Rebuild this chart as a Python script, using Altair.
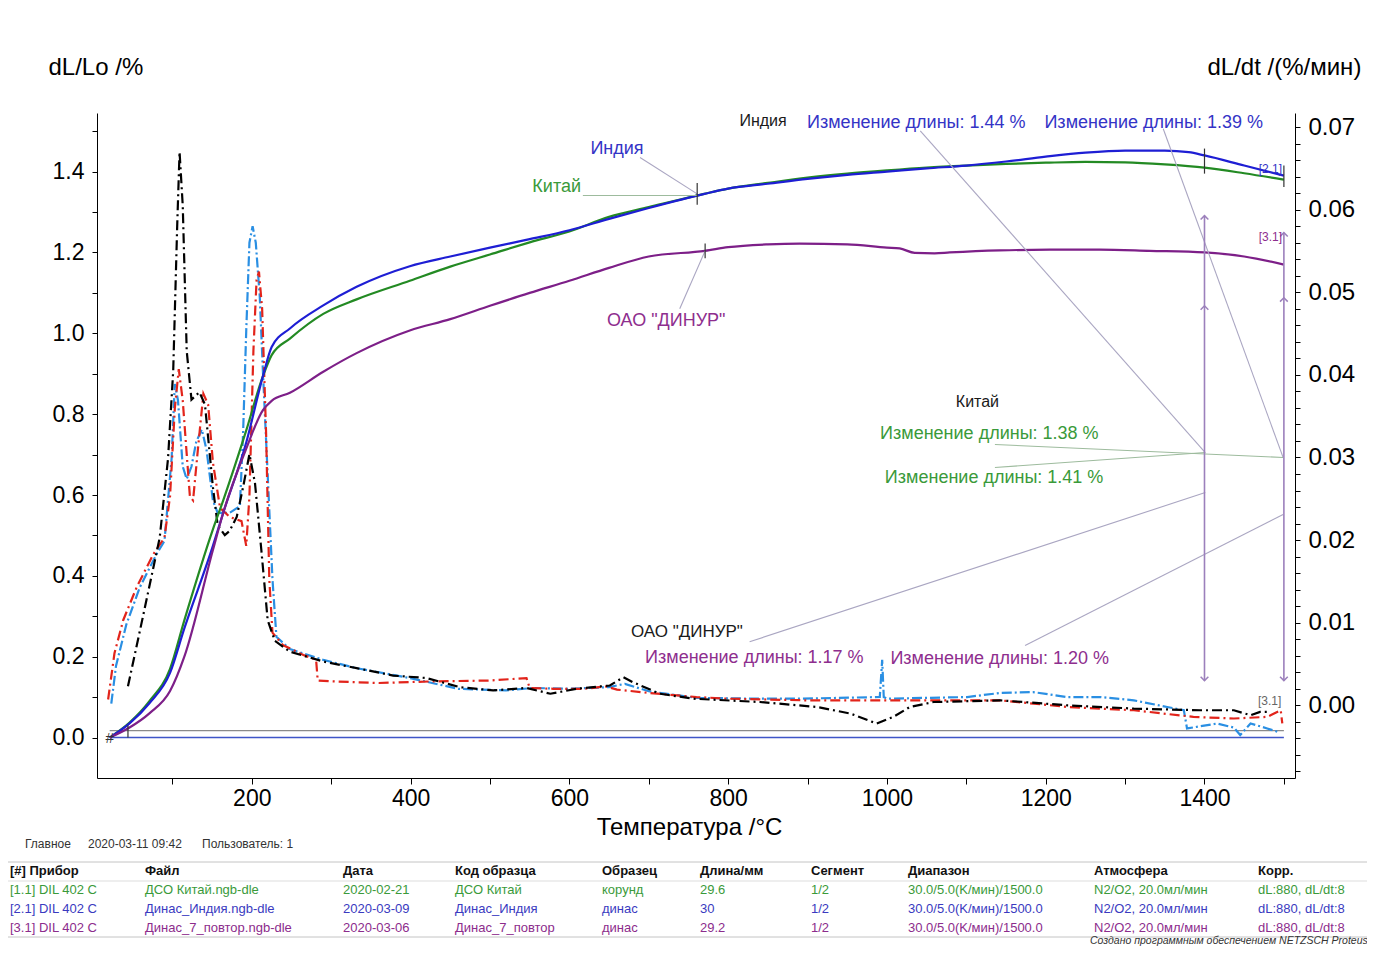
import altair as alt
import pandas as pd

# ======================= DATA =======================
# dL/Lo /%  (left axis) - expansion curves
india_T = [21, 46, 71, 97, 115, 151, 164, 193, 214, 225, 248, 290, 332, 399, 450, 500,
           550, 600, 650, 700, 770, 800, 850, 900, 950, 1000, 1050, 1100, 1150, 1200,
           1250, 1300, 1350, 1380, 1400, 1450, 1500]
india_dL = [0.0, 0.035, 0.085, 0.16, 0.27, 0.474, 0.556, 0.73, 0.894, 0.966, 1.012, 1.069,
            1.115, 1.166, 1.19, 1.212, 1.233, 1.255, 1.283, 1.31, 1.345, 1.358, 1.37, 1.382,
            1.392, 1.4, 1.408, 1.415, 1.425, 1.437, 1.447, 1.452, 1.452, 1.448, 1.44, 1.415, 1.39]

china_T = [21, 46, 71, 97, 115, 151, 164, 193, 214, 225, 248, 290, 332, 399, 450, 500,
           550, 600, 650, 700, 770, 800, 850, 900, 950, 1000, 1050, 1100, 1150, 1200,
           1250, 1300, 1350, 1400, 1450, 1500]
china_dL = [0.0, 0.037, 0.09, 0.17, 0.29, 0.515, 0.587, 0.76, 0.894, 0.946, 0.987, 1.048,
            1.084, 1.13, 1.165, 1.195, 1.225, 1.252, 1.288, 1.312, 1.345, 1.358, 1.372, 1.385,
            1.395, 1.403, 1.41, 1.415, 1.419, 1.422, 1.424, 1.423, 1.418, 1.41, 1.396, 1.38]

dinur_T = [21, 46, 71, 97, 115, 151, 164, 193, 214, 225, 248, 290, 332, 399, 450, 500,
           550, 600, 650, 700, 771, 800, 850, 890, 950, 1000, 1016, 1035, 1060, 1079, 1142,
           1205, 1268, 1331, 1400, 1450, 1500]
dinur_dL = [0.0, 0.025, 0.06, 0.115, 0.2, 0.464, 0.556, 0.715, 0.81, 0.833, 0.853, 0.905,
            0.951, 1.007, 1.035, 1.068, 1.1, 1.13, 1.162, 1.19, 1.204, 1.213, 1.22, 1.222,
            1.22, 1.212, 1.21, 1.199, 1.198, 1.2, 1.205, 1.207, 1.207, 1.204, 1.2, 1.19, 1.17]

# dL/dt /(%/мин)  (right axis) - derivative curves
dt_black_T = [44, 63, 84, 94.5, 101, 106, 109, 113, 118, 124, 134, 141, 151, 157, 166, 172,
              181, 189, 197, 204, 212, 220, 229, 248, 290, 332, 378, 420, 462, 504, 546, 576,
              609, 651, 668, 680, 714, 756, 840, 912, 954, 987, 1008, 1029, 1059, 1143, 1227,
              1311, 1394, 1437, 1458, 1470, 1483]
dt_black = [0.0023, 0.0108, 0.0203, 0.0299, 0.0405, 0.058, 0.067, 0.0605, 0.0429, 0.037,
            0.0379, 0.0364, 0.0264, 0.0218, 0.0206, 0.0211, 0.0228, 0.0264, 0.0304, 0.0269,
            0.0188, 0.0103, 0.0078, 0.0065, 0.0053, 0.0045, 0.0036, 0.0033, 0.0022, 0.0018,
            0.0021, 0.0014, 0.002, 0.0024, 0.0034, 0.0028, 0.0014, 0.0008, 0.0004, -0.0002,
            -0.001, -0.0022, -0.0014, -0.0002, 0.0004, 0.0006, 0.0, -0.0004, -0.0006, -0.0006,
            -0.0012, -0.0008, -0.0008]

dt_red_T = [19, 27, 38, 55, 76, 90, 97, 103, 108, 113, 118, 122, 126, 132, 139, 145, 151,
            160, 172, 187, 193, 197, 202, 206, 209, 213, 218, 222, 226, 239, 265, 281, 283,
            300, 360, 430, 500, 546, 550, 580, 620, 645, 660, 700, 760, 800, 900, 1000, 1143,
            1227, 1311, 1386, 1437, 1479, 1496, 1498]
dt_red = [0.0007, 0.0063, 0.0103, 0.0143, 0.0183, 0.0203, 0.0253, 0.0359, 0.0407, 0.0369,
          0.0304, 0.0253, 0.0248, 0.0309, 0.0377, 0.0364, 0.0294, 0.0239, 0.0228, 0.0223,
          0.0193, 0.0253, 0.0429, 0.0515, 0.0525, 0.048, 0.0329, 0.0153, 0.0088, 0.0073,
          0.0061, 0.0055, 0.003, 0.0029, 0.0027, 0.0029, 0.003, 0.0033, 0.0021, 0.002,
          0.002, 0.0023, 0.0019, 0.0015, 0.001, 0.0008, 0.0006, 0.0006, 0.0006, -0.0002,
          -0.0006, -0.0014, -0.0016, -0.0014, -0.0006, -0.0022]

dt_sky_T = [23, 29, 42, 59, 80, 90, 99, 103, 107, 113, 118, 124, 130, 137, 143, 151, 157,
            172, 185, 189, 193, 197, 201, 205, 210, 214, 220, 226, 231, 248, 290, 332, 399,
            460, 520, 554, 600, 650, 670, 700, 760, 840, 890, 991, 994, 996, 1000, 1101, 1143,
            1184, 1227, 1269, 1311, 1353, 1374, 1378, 1416, 1437, 1445, 1458, 1479, 1495]
dt_sky = [0.0002, 0.0048, 0.0098, 0.0143, 0.0183, 0.0199, 0.0299, 0.0389, 0.0369, 0.0289,
          0.0274, 0.0289, 0.0319, 0.0334, 0.0309, 0.0248, 0.0233, 0.0233, 0.0241, 0.0329,
          0.0454, 0.056, 0.058, 0.056, 0.0495, 0.0404, 0.0279, 0.0153, 0.0083, 0.0068,
          0.0055, 0.0045, 0.0033, 0.002, 0.0018, 0.0021, 0.002, 0.0022, 0.0026, 0.0017,
          0.0009, 0.0008, 0.0008, 0.001, 0.0055, 0.001, 0.0008, 0.001, 0.0015, 0.0016,
          0.001, 0.001, 0.0006, -0.0002, -0.0006, -0.0028, -0.0022, -0.0027, -0.0036,
          -0.0022, -0.0028, -0.0033]

# length change results (%)
india_change = [1.44, 1.39]
china_change = [1.38, 1.41]
dinur_change = [1.17, 1.20]
eval_T = [1400, 1500]

# text content
name_india = "Индия"
name_china = "Китай"
name_dinur = 'ОАО "ДИНУР"'
change_fmt = "Изменение длины: {:.2f} %"
info_texts = ["Главное", "2020-03-11 09:42", "Пользователь: 1"]
table_header = ["[#] Прибор", "Файл", "Дата", "Код образца", "Образец", "Длина/мм",
                "Сегмент", "Диапазон", "Атмосфера", "Корр."]
table_rows = [
    ["[1.1] DIL 402 C", "ДСО Китай.ngb-dle", "2020-02-21", "ДСО Китай", "корунд", "29.6",
     "1/2", "30.0/5.0(K/мин)/1500.0", "N2/O2, 20.0мл/мин", "dL:880, dL/dt:8"],
    ["[2.1] DIL 402 C", "Динас_Индия.ngb-dle", "2020-03-09", "Динас_Индия", "динас", "30",
     "1/2", "30.0/5.0(K/мин)/1500.0", "N2/O2, 20.0мл/мин", "dL:880, dL/dt:8"],
    ["[3.1] DIL 402 C", "Динас_7_повтор.ngb-dle", "2020-03-06", "Динас_7_повтор", "динас",
     "29.2", "1/2", "30.0/5.0(K/мин)/1500.0", "N2/O2, 20.0мл/мин", "dL:880, dL/dt:8"],
]
footer_text = "Создано программным обеспечением NETZSCH Proteus"

# ======================= LAYOUT / STYLE =======================
FONT = "Liberation Sans"
OX, OY = 97, 113          # page position of plot origin
W, H = 1198, 665
X_DOM = [5, 1514]
YL_DOM = [-0.1, 1.545]
YR_DOM = [-0.0088, 0.0717]

GREEN_L, BLUE_L, PURPLE_L = "#238a23", "#1e1ed4", "#7d1f88"
GREEN_T, BLUE_T, PURPLE_T = "#3a9a3a", "#3434c6", "#8e2e8e"
RED, SKY, BLACK = "#e2241b", "#2a8fe3", "#000000"
ARROW, LEAD, LEAD_G, GRAY = "#9c80bc", "#aaa6c2", "#9dbb9d", "#8a8a8a"


def px(x):
    return x - OX


def py(y):
    return y - OY


def xs():
    return alt.Scale(domain=X_DOM, nice=False, zero=False)


def ysl():
    return alt.Scale(domain=YL_DOM, nice=False, zero=False)


def ysr():
    return alt.Scale(domain=YR_DOM, nice=False, zero=False)


x_axis = alt.Axis(values=list(range(100, 1501, 100)),
                  labelExpr="datum.value % 200 == 0 ? format(datum.value, 'd') : ''",
                  tickSize=6, labelPadding=3, title="Температура /°C",
                  titleX=592, titleY=49, titleBaseline="middle", titleAlign="center",
                  grid=False, domainColor="black", tickColor="black", labelColor="black",
                  labelFont=FONT, labelFontSize=23, titleFont=FONT, titleFontSize=24,
                  titleFontWeight="normal", titleColor="black", labelOverlap=False,
                  labelFlush=False)
yl_axis = alt.Axis(values=[round(i * 0.1, 1) for i in range(0, 16)],
                   labelExpr="round(datum.value * 10) % 2 == 0 ? format(datum.value, '.1f') : ''",
                   tickSize=5, labelPadding=8, title="dL/Lo /%", titleAngle=0,
                   titleAlign="left", titleX=-49, titleY=-46, titleBaseline="middle",
                   grid=False, domainColor="black", tickColor="black", labelColor="black",
                   labelFont=FONT, labelFontSize=23, titleFont=FONT, titleFontSize=24,
                   titleFontWeight="normal", titleColor="black", labelOverlap=False)
yr_axis = alt.Axis(orient="right", values=[round(-0.008 + i * 0.002, 3) for i in range(40)],
                   labelExpr="abs(datum.value * 100 - round(datum.value * 100)) < 0.001 ? format(datum.value, '.2f') : ''",
                   tickSize=5, labelPadding=8, title="dL/dt /(%/мин)", titleAngle=0,
                   titleAlign="left", titleX=-88, titleY=-46, titleBaseline="middle",
                   grid=False, domainColor="black", tickColor="black", labelColor="black",
                   labelFont=FONT, labelFontSize=24, titleFont=FONT, titleFontSize=24,
                   titleFontWeight="normal", titleColor="black", labelOverlap=False)


def X(field="T", axis=None):
    return alt.X(f"{field}:Q", scale=xs(), axis=axis)


def YL(field="v", axis=None):
    return alt.Y(f"{field}:Q", scale=ysl(), axis=axis)


def YR(field="d", axis=None):
    return alt.Y(f"{field}:Q", scale=ysr(), axis=axis)


layers = []

# baselines (carry the bottom and left axes)
layers.append(alt.Chart(pd.DataFrame({"T": [21, 1500], "v": [0.0173, 0.0173]}))
              .mark_line(color=GRAY, strokeWidth=1.4)
              .encode(x=X("T", x_axis), y=YL("v", yl_axis)))
layers.append(alt.Chart(pd.DataFrame({"T": [21, 1500], "v": [0.0, 0.0]}))
              .mark_line(color="#3f55c8", strokeWidth=1.6).encode(x=X(), y=YL()))

# derivative curves (first one carries the right axis)
first = True
for T, vals, col, dash in [(dt_sky_T, dt_sky, SKY, [10, 3, 2, 3]),
                           (dt_red_T, dt_red, RED, [10, 4, 2, 4]),
                           (dt_black_T, dt_black, BLACK, [10, 4, 2, 4])]:
    layers.append(alt.Chart(pd.DataFrame({"T": T, "d": vals}))
                  .mark_line(color=col, strokeWidth=2.2, strokeDash=dash)
                  .encode(x=X(), y=YR("d", yr_axis if first else None)))
    first = False

# expansion curves
for T, vals, col in [(china_T, china_dL, GREEN_L), (india_T, india_dL, BLUE_L),
                     (dinur_T, dinur_dL, PURPLE_L)]:
    layers.append(alt.Chart(pd.DataFrame({"T": T, "v": vals}))
                  .mark_line(color=col, strokeWidth=2.2, interpolate="monotone")
                  .encode(x=X(), y=YL()))

# leader lines (start T, start v, end T, end v, colour)
leaders = [
    (1042, 1.501, 1401, 0.705, LEAD), (1348, 1.506, 1499, 0.693, LEAD),
    (1136, 0.725, 1499, 0.693, LEAD_G), (1136, 0.668, 1401, 0.705, LEAD_G),
    (827, 0.237, 1401, 0.606, LEAD), (1174, 0.228, 1499, 0.552, LEAD),
    (689, 1.435, 761, 1.345, LEAD), (617, 1.341, 761, 1.341, LEAD_G),
    (739, 1.061, 771, 1.204, LEAD),
]
for t0, v0, t1, v1, col in leaders:
    layers.append(alt.Chart(pd.DataFrame({"T": [t0], "T2": [t1], "v": [v0], "v2": [v1]}))
                  .mark_rule(color=col, strokeWidth=1.1)
                  .encode(x=X(), x2="T2:Q", y=YL(), y2="v2:Q"))

# vertical evaluation arrows
arrow_top = [1.291, 1.249]
arrow_bottom = [0.141, 0.141]
layers.append(alt.Chart(pd.DataFrame({"T": eval_T, "v": arrow_top, "v2": arrow_bottom}))
              .mark_rule(color=ARROW, strokeWidth=1.6).encode(x=X(), y=YL(), y2="v2:Q"))
layers.append(alt.Chart(pd.DataFrame({"T": [1400, 1400, 1500, 1500],
                                      "v": [1.291, 1.068, 1.249, 1.088]}))
              .mark_point(shape="M-1,1L0,0L1,1", filled=False, size=60, strokeWidth=1.5,
                          color=ARROW, opacity=1).encode(x=X(), y=YL()))
layers.append(alt.Chart(pd.DataFrame({"T": eval_T, "v": arrow_bottom}))
              .mark_point(shape="M-1,-1L0,0L1,-1", filled=False, size=60, strokeWidth=1.5,
                          color=ARROW, opacity=1).encode(x=X(), y=YL()))

# small cursor marks on curves
layers.append(alt.Chart(pd.DataFrame({"T": [761, 771, 1400, 1500, 44],
                                      "v": [1.318, 1.186, 1.395, 1.362, 0.0],
                                      "v2": [1.372, 1.222, 1.457, 1.415, 0.03]}))
              .mark_rule(color="#333333", strokeWidth=1.2).encode(x=X(), y=YL(), y2="v2:Q"))
layers.append(alt.Chart(pd.DataFrame({"T": [21], "v": [0.0], "t": ["#"]}))
              .mark_text(font=FONT, fontSize=15, color="#333333", align="center",
                         baseline="middle")
              .encode(x=X(), y=YL(), text="t:N"))

# annotation labels (text, T, v, colour, font size)
labels = [
    (name_india, 844, 1.524, "#1a1a1a", 16),
    (change_fmt.format(india_change[0]), 1037, 1.521, BLUE_T, 18),
    (change_fmt.format(india_change[1]), 1336, 1.521, BLUE_T, 18),
    (name_india, 660, 1.457, BLUE_T, 18),
    (name_china, 584, 1.363, GREEN_T, 18),
    (name_dinur, 722, 1.031, PURPLE_T, 18),
    (name_china, 1114, 0.829, "#1a1a1a", 16),
    (change_fmt.format(china_change[0]), 1129, 0.752, GREEN_T, 18),
    (change_fmt.format(china_change[1]), 1135, 0.641, GREEN_T, 18),
    (name_dinur, 748, 0.260, "#1a1a1a", 17),
    (change_fmt.format(dinur_change[0]), 833, 0.198, PURPLE_T, 18),
    (change_fmt.format(dinur_change[1]), 1142, 0.195, PURPLE_T, 18),
    ("[2.1]", 1483, 1.407, BLUE_T, 12),
    ("[3.1]", 1483, 1.239, PURPLE_T, 12),
    ("[3.1]", 1482, 0.0915, "#666666", 12),
]
for txt, t, v, col, fs in labels:
    layers.append(alt.Chart(pd.DataFrame({"T": [t], "v": [v], "t": [txt]}))
                  .mark_text(font=FONT, fontSize=fs, color=col, align="center",
                             baseline="middle")
                  .encode(x=X(), y=YL(), text="t:N"))

# info line below axis
for txt, xpage in zip(info_texts, [25, 88, 202]):
    layers.append(alt.Chart(pd.DataFrame({"t": [txt]}))
                  .mark_text(font=FONT, fontSize=12, color="#333333", align="left",
                             baseline="middle")
                  .encode(x=alt.value(px(xpage)), y=alt.value(py(844)), text="t:N"))

# table lines
for ypage, col in [(862, "#c4c4c4"), (881, "#dddddd"), (937, "#c4c4c4")]:
    layers.append(alt.Chart(pd.DataFrame({"a": [0]})).mark_rule(color=col, strokeWidth=1)
                  .encode(x=alt.value(px(8)), x2=alt.value(px(1375)), y=alt.value(py(ypage))))

# table text
col_x = [10, 145, 343, 455, 602, 700, 811, 908, 1094, 1258]
row_y = [871, 890, 909, 928]
row_colors = ["#111111", "#3a9a3a", "#3a3ac0", "#8c2c8c"]
for r, row in enumerate([table_header] + table_rows):
    for c, txt in enumerate(row):
        layers.append(alt.Chart(pd.DataFrame({"t": [txt]}))
                      .mark_text(font=FONT, fontSize=13, color=row_colors[r], align="left",
                                 baseline="middle", fontWeight="bold" if r == 0 else "normal")
                      .encode(x=alt.value(px(col_x[c])), y=alt.value(py(row_y[r])),
                              text="t:N"))

layers.append(alt.Chart(pd.DataFrame({"t": [footer_text]}))
              .mark_text(font=FONT, fontSize=10.5, fontStyle="italic", color="#333333",
                         align="left", baseline="middle")
              .encode(x=alt.value(px(1090)), y=alt.value(py(941)), text="t:N"))

chart = (
    alt.layer(*layers)
    .resolve_scale(x="independent", y="independent")
    .properties(width=W, height=H, background="white",
                autosize=alt.AutoSizeParams(type="none"),
                padding={"left": OX - 8, "top": OY - 8, "right": 72, "bottom": 168})
    .configure_view(stroke=None)
)

chart.save("out.html", embed_options={"renderer": "svg", "actions": False})
